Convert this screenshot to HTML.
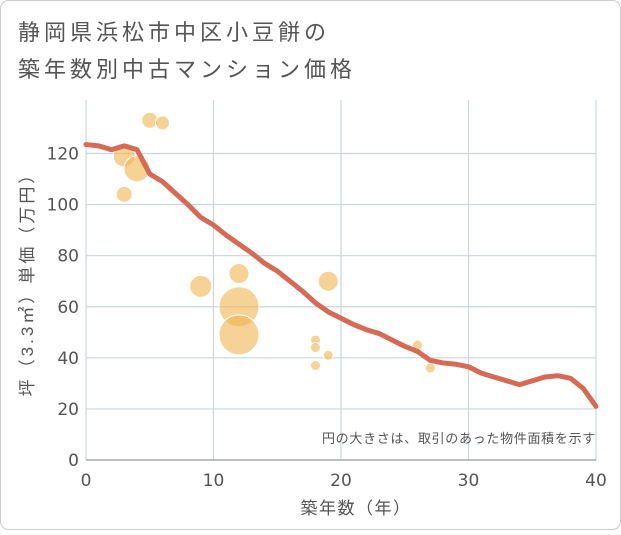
<!DOCTYPE html>
<html><head><meta charset="utf-8"><style>
body{margin:0;background:#fff;font-family:"Liberation Sans","Noto Sans CJK JP",sans-serif}
#c{position:absolute;left:0;top:0;width:621px;height:530px}
</style></head><body>
<div id="c">
<svg width="621" height="530">
<rect x="0.5" y="0.5" width="620" height="529" rx="8" fill="#fff" stroke="#ccc"/>
<text x="18" y="40" font-size="22" letter-spacing="4" fill="#555">静岡県浜松市中区小豆餅の</text>
<text x="18" y="77" font-size="22" letter-spacing="4" fill="#555">築年数別中古マンション価格</text>
<g id="grid"></g><g id="bub"></g><g id="ln"></g><g id="ax"></g>
<text x="596" y="443" font-size="13" letter-spacing="0.7" fill="#555" text-anchor="end">円の大きさは、取引のあった物件面積を示す</text>
<text x="356" y="514" font-size="17" letter-spacing="1.5" fill="#555" text-anchor="middle">築年数（年）</text>
<text transform="translate(33,280) rotate(-90)" font-size="17" letter-spacing="3" fill="#555" text-anchor="middle">坪（3.3㎡）単価（万円）</text>
</svg></div>
<script>
const xTicks=[0,10,20,30,40];
const yTicks=[0,20,40,60,80,100,120];
const bubX=[5,6,3,4,3,9,12,12,12,19,18,18,19,18,26,27];
const bubY=[133,132,119,114,104,68,73,60,49,70,47,44,41,37,45,36];
const bubR=[8,7,11,13,8,11,10,20,20,10,5,5,5,5,5,5];
const lineX=[0,1,2,3,4,5,6,7,8,9,10,11,12,13,14,15,16,17,18,19,20,21,22,23,24,25,26,27,28,29,30,31,32,33,34,35,36,37,38,39,40];
const lineY=[123.5,123,121.5,123,121.5,112,109,104.5,100,95,92,88,84.5,81,77,74,70,66,61.5,58,55.5,53,51,49.5,47,44.5,42.5,39,38,37.5,36.5,34,32.5,31,29.5,31,32.5,33,32,28,21];
const X0=86,X1=596,Y0=460,YT=100;
const sx=v=>X0+(X1-X0)*v/40, sy=v=>Y0-(Y0-153.5)*v/120;
const NS='http://www.w3.org/2000/svg';
function mk(p,t,a){const e=document.createElementNS(NS,t);for(const k in a)e.setAttribute(k,a[k]);p.appendChild(e);return e;}
const g=document.getElementById('grid'),b=document.getElementById('bub'),l=document.getElementById('ln'),ax=document.getElementById('ax');
yTicks.forEach(v=>{const e=mk(g,'line',{x1:X0,x2:X1,y1:sy(v),y2:sy(v),stroke:'#c9d5e3','stroke-width':1.2});


const t=mk(ax,'text',{x:X0-7,y:sy(v)+6,'font-size':17,fill:'#555','text-anchor':'end','font-family':'DejaVu Sans, sans-serif'});t.textContent=v;

});
xTicks.forEach(v=>{const e=mk(g,'line',{x1:sx(v),x2:sx(v),y1:YT,y2:Y0,stroke:'#c9d5e3','stroke-width':1.2});


const t=mk(ax,'text',{x:sx(v),y:Y0+26,'font-size':17,fill:'#555','text-anchor':'middle','font-family':'DejaVu Sans, sans-serif'});t.textContent=v;

});
const base=mk(ax,'line',{x1:X0,x2:X1,y1:Y0,y2:Y0,stroke:'#888','stroke-width':1});


bubX.forEach((v,i)=>{const c=mk(b,'circle',{cx:sx(v),cy:sy(bubY[i]),r:bubR[i],fill:'rgba(240,180,80,0.6)',stroke:'#fff','stroke-width':1});

});
const p=mk(l,'polyline',{points:lineX.map((v,i)=>sx(v)+','+sy(lineY[i])).join(' '),fill:'none',stroke:'#d66a55','stroke-width':5,'stroke-linejoin':'round','stroke-linecap':'round'});


</script></body></html>
